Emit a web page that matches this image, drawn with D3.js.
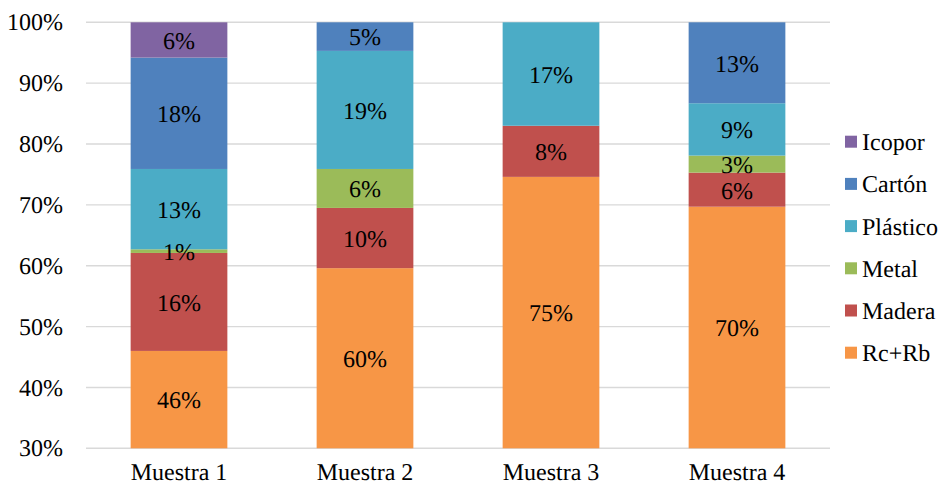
<!DOCTYPE html>
<html>
<head>
<meta charset="utf-8">
<script src="https://cdn.jsdelivr.net/npm/d3@7"></script>
<style>
  html, body { margin: 0; padding: 0; background: #fff; }
</style>
</head>
<body>
<svg id="chart" width="941" height="487" style="font-family: 'Liberation Serif'" text-rendering="geometricPrecision"></svg>
<script>
// Composition of each sample (share of total, stacked bottom to top)
const samples = ["Muestra 1", "Muestra 2", "Muestra 3", "Muestra 4"];
const materials = ["Rc+Rb", "Madera", "Metal", "Plástico", "Cartón", "Icopor"];
const rcRb     = [0.460, 0.596, 0.746, 0.697];
const madera   = [0.161, 0.099, 0.084, 0.056];
const metal    = [0.006, 0.064, 0,     0.028];
const plastico = [0.132, 0.194, 0.170, 0.086];
const carton   = [0.183, 0.047, 0,     0.133];
const icopor   = [0.058, 0,     0,     0];
const yTicks = [0.3, 0.4, 0.5, 0.6, 0.7, 0.8, 0.9, 1.0];
const colors = ["#F79646", "#C0504D", "#9BBB59", "#4BACC6", "#4F81BD", "#8064A2"];

const seriesValues = [rcRb, madera, metal, plastico, carton, icopor];
const rows = samples.map((s, i) => {
  const r = { sample: s };
  materials.forEach((m, j) => { r[m] = seriesValues[j][i]; });
  return r;
});

const svg = d3.select("#chart");
const margin = { left: 86, right: 111, top: 22.3, bottom: 38.7 };
const W = 941, H = 487;
const FONT = "Liberation Serif";
const FS = "24px";
const styleText = sel => sel.style("font-family", FONT).style("font-size", FS)
  .style("text-rendering", "geometricPrecision").attr("fill", "#000");

const x = d3.scaleBand().domain(samples)
  .range([margin.left, W - margin.right]).paddingInner(0.48).paddingOuter(0.24);
const y = d3.scaleLinear().domain([0.3, 1.0]).range([H - margin.bottom, margin.top]);
const color = d3.scaleOrdinal().domain(materials).range(colors);
const pct = d3.format(".0%");

// Horizontal gridlines
svg.append("g").selectAll("line").data(yTicks).join("line")
  .attr("x1", margin.left).attr("x2", W - margin.right)
  .attr("y1", d => y(d)).attr("y2", d => y(d))
  .attr("stroke", "#d9d9d9").attr("stroke-width", 1.4);

// Y axis labels
const yAxis = d3.axisLeft(y).tickValues(yTicks).tickFormat(pct).tickSize(0).tickPadding(23);
svg.append("g").attr("transform", `translate(${margin.left},0)`).call(yAxis)
  .attr("font-family", null).attr("font-size", null)
  .call(g => g.select(".domain").remove())
  .call(g => g.selectAll("text").call(styleText));

// X axis labels
const xAxis = d3.axisBottom(x).tickSize(0).tickPadding(15);
svg.append("g").attr("transform", `translate(0,${y(0.3)})`).call(xAxis)
  .attr("font-family", null).attr("font-size", null)
  .call(g => g.select(".domain").remove())
  .call(g => g.selectAll("text").call(styleText));

// Stacked bars
const stack = d3.stack().keys(materials);
const layers = stack(rows);
const clipY = v => Math.max(v, 0.3);

const layerG = svg.append("g").selectAll("g").data(layers).join("g")
  .attr("fill", d => color(d.key));

layerG.selectAll("rect").data(d => d.filter(p => p[1] - p[0] > 0)).join("rect")
  .attr("x", d => x(d.data.sample))
  .attr("width", x.bandwidth())
  .attr("y", d => y(d[1]))
  .attr("height", d => y(clipY(d[0])) - y(d[1]));

// Value labels centred in each segment
layers.forEach(layer => {
  svg.append("g").selectAll("text").data(layer.filter(p => p[1] - p[0] > 0)).join("text")
    .attr("x", d => x(d.data.sample) + x.bandwidth() / 2)
    .attr("y", d => (y(clipY(d[0])) + y(d[1])) / 2)
    .attr("dy", "0.37em")
    .attr("text-anchor", "middle")
    .call(styleText)
    .text(d => pct(d[1] - d[0]));
});

// Legend (top item is the top of the stack)
const legendItems = materials.slice().reverse();
const legend = svg.append("g").attr("transform", "translate(845,141.7)");
const li = legend.selectAll("g").data(legendItems).join("g")
  .attr("transform", (d, i) => `translate(0,${i * 42.2})`);
li.append("rect").attr("x", 0).attr("y", -6).attr("width", 12).attr("height", 12)
  .attr("fill", d => color(d));
li.append("text").attr("x", 17).attr("dy", "0.35em")
  .call(styleText).text(d => d);
</script>
</body>
</html>
